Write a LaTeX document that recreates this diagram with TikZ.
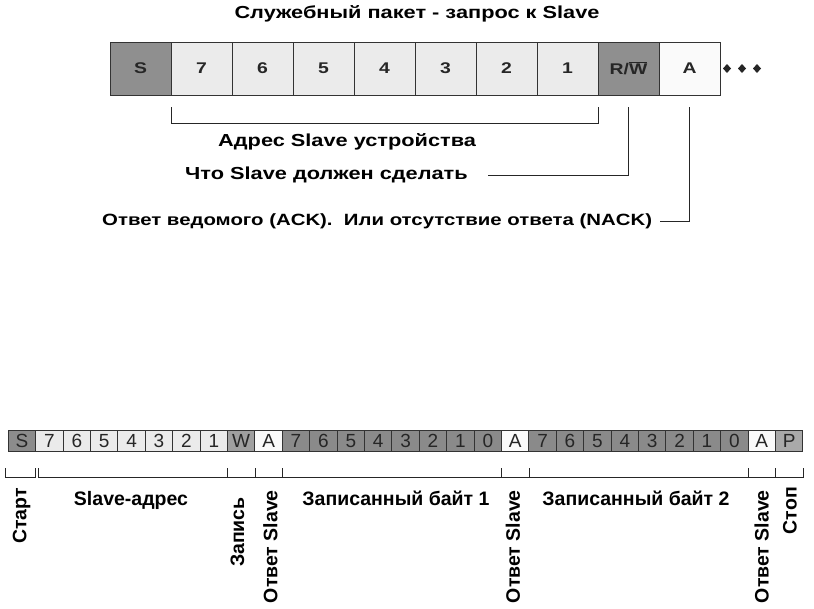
\documentclass[tikz,border=0pt]{standalone}
\usepackage{fontspec}
\setmainfont{Liberation Sans}
\newfontfamily\widefont[FakeStretch=1.25]{Liberation Sans}
\usetikzlibrary{positioning}

\definecolor{bitdark}{HTML}{8F8F8F}
\definecolor{bitlight}{HTML}{EBEBEB}
\definecolor{bitack}{HTML}{FAFAFA}
\definecolor{lowS}{HTML}{8C8C8C}
\definecolor{lowW}{HTML}{A0A0A0}
\definecolor{lowdata}{HTML}{8A8A8A}
\definecolor{lowP}{HTML}{A9A9A9}

\newcommand{\rwbit}{R/$\overline{\hbox{W}}$}

\tikzset{
    bit/.style={draw=black!80, line width=1pt, inner sep=0pt, outer sep=0pt, text=black!85},
    topbit/.style={bit, minimum width=61pt, minimum height=53pt, font=\widefont\bfseries\fontsize{15.5}{18}\selectfont},
    lowbit/.style={bit, minimum width=27.4pt, minimum height=21.7pt, font=\fontsize{19}{22}\selectfont},
    toplabel/.style={inner sep=0pt, font=\widefont\bfseries\fontsize{17.4}{20}\selectfont},
    lowlabel/.style={inner sep=0pt, font=\bfseries\fontsize{19.5}{22}\selectfont},
    sidelabel/.style={lowlabel, rotate=90, anchor=east},
    brace/.style={line width=0.8pt, draw=black!85}
}

\begin{document}
\begin{tikzpicture}[x=1pt, y=-1pt]

    \useasboundingbox (0,0) rectangle (814,608);

    % Request packet
    \node[toplabel] (title) at (417, 14) {Служебный пакет - запрос к Slave};

    \foreach \t/\c [count=\i from 0] in {S/bitdark, 7/bitlight, 6/bitlight, 5/bitlight, 4/bitlight, 3/bitlight, 2/bitlight, 1/bitlight, \rwbit/bitdark, A/bitack}
        \node[topbit, fill=\c] (t\i) at (140.5+61*\i, 68.5) {\t};

    \foreach \x in {727, 742, 757}
        \fill[black!85] (\x,64) -- (\x+4,68.5) -- (\x,73) -- (\x-4,68.5) -- cycle;

    % Explanations
    \node[toplabel, anchor=west] (addr) at (218, 142) {Адрес Slave устройства};
    \node[toplabel, anchor=west] (what) at (185, 175) {Что Slave должен сделать};
    \node[toplabel, anchor=west, font=\widefont\bfseries\fontsize{16.3}{20}\selectfont] (ack) at (102, 221) {Ответ ведомого (ACK).\ \ Или отсутствие ответа (NACK)};

    \draw[brace] ([yshift=-12pt]t1.south west) -- ++(0,16) -| ([yshift=-12pt]t7.south east);
    \draw[brace] ([yshift=-12pt]t8.south) |- ([xshift=20pt]what.east);
    \draw[brace] ([yshift=-12pt]t9.south) |- ([xshift=8pt]ack.east);


    % Write frame
    \foreach \t/\c [count=\i from 0] in {S/lowS, 7/bitlight, 6/bitlight, 5/bitlight, 4/bitlight, 3/bitlight, 2/bitlight, 1/bitlight, W/lowW, A/bitack,
        7/lowdata, 6/lowdata, 5/lowdata, 4/lowdata, 3/lowdata, 2/lowdata, 1/lowdata, 0/lowdata, A/bitack,
        7/lowdata, 6/lowdata, 5/lowdata, 4/lowdata, 3/lowdata, 2/lowdata, 1/lowdata, 0/lowdata, A/bitack, P/lowP}
        \node[lowbit, fill=\c] (b\i) at (22+27.4*\i, 440.9) {\t};

    % Brackets
    \draw[brace] ([xshift=-3pt, yshift=-16.6pt]b0.south west) -- ++(0,8.9) -| ([yshift=-16.6pt]b0.south east);
    \draw[brace] ([xshift=2.5pt, yshift=-16.6pt]b1.south west) -- ++(0,8.9) -| ([yshift=-16.6pt]b7.south east);
    \foreach \a/\b in {8/8, 9/9, 10/17, 18/18, 19/26, 27/27, 28/28}
        \draw[brace] ([yshift=-16.6pt]b\a.south west) -- ++(0,8.9) -| ([yshift=-16.6pt]b\b.south east);

    % Field names
    \node[sidelabel] (start) at (21.7, 488) {Старт};
    \node[lowlabel, anchor=base] (slaveaddr) at (131, 505) {Slave-адрес};
    \node[sidelabel] (wr) at (237.5, 497) {Запись};
    \node[sidelabel] (ans1) at (270.5, 490) {Ответ Slave};
    \node[lowlabel, anchor=base] (byte1) at (396, 505) {Записанный байт 1};
    \node[sidelabel] (ans2) at (513, 490) {Ответ Slave};
    \node[lowlabel, anchor=base] (byte2) at (636, 505) {Записанный байт 2};
    \node[sidelabel] (ans3) at (761.7, 490) {Ответ Slave};
    \node[sidelabel] (stop) at (790, 487) {Стоп};

\end{tikzpicture}
\end{document}
